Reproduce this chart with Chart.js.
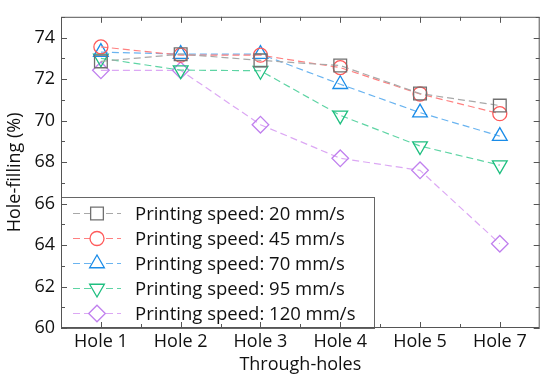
<!DOCTYPE html>
<html>
<head>
<meta charset="utf-8">
<script src="https://cdn.jsdelivr.net/npm/chart.js@4/dist/chart.umd.min.js"></script>
<style>
  html, body { margin: 0; padding: 0; background: #fff; }
  #wrap { width: 550px; height: 381px; }
</style>
</head>
<body>
<div id="wrap"><canvas id="lineChart" width="550" height="381"></canvas></div>
<script>
// data
const holes = ['Hole 1', 'Hole 2', 'Hole 3', 'Hole 4', 'Hole 5', 'Hole 7'];
const speed20 = [72.85, 73.2, 72.9, 72.65, 71.3, 70.72];
const speed45 = [73.55, 73.15, 73.15, 72.55, 71.28, 70.33];
const speed70 = [73.3, 73.2, 73.2, 71.75, 70.38, 69.25];
const speed95 = [73.0, 72.43, 72.4, 70.25, 68.77, 67.85];
const speed120 = [72.42, 72.42, 69.8, 68.18, 67.6, 64.06];
const yTicks = [60, 62, 64, 66, 68, 70, 72, 74];

const FONT = '"Open Sans", Lato, sans-serif';

function series(label, data, line, edge, style, radius, rot) {
  return {
    label: label,
    data: data,
    borderColor: line,
    borderWidth: 1.2,
    borderDash: [7, 4],
    pointStyle: style,
    pointRadius: radius,
    pointHoverRadius: radius,
    pointRotation: rot || 0,
    pointBorderColor: edge,
    pointBackgroundColor: 'rgba(255,255,255,0)',
    pointBorderWidth: 1.3,
    fill: false,
    tension: 0
  };
}

// inward ticks + top/right frame
const frameTicks = {
  id: 'frameTicks',
  afterDraw(chart) {
    const ctx = chart.ctx;
    const a = chart.chartArea;
    const xs = chart.scales.x, ys = chart.scales.y;
    ctx.save();
    ctx.strokeStyle = '#555';
    ctx.lineWidth = 1;
    ctx.strokeRect(a.left + 0.5, a.top + 0.5, a.right - a.left - 1, a.bottom - a.top - 1);
    ctx.beginPath();
    for (let v = 60; v <= 75; v++) {
      const y = Math.round(ys.getPixelForValue(v)) + 0.5;
      const len = v % 2 === 0 ? 6 : 4;
      ctx.moveTo(a.left, y); ctx.lineTo(a.left + len, y);
      ctx.moveTo(a.right, y); ctx.lineTo(a.right - len, y);
    }
    for (let i = 0; i < holes.length; i++) {
      const x = Math.round(xs.getPixelForValue(i)) + 0.5;
      ctx.moveTo(x, a.top); ctx.lineTo(x, a.top + 6);
      ctx.moveTo(x, a.bottom); ctx.lineTo(x, a.bottom - 6);
      if (i > 0) {
        const xm = Math.round((xs.getPixelForValue(i) + xs.getPixelForValue(i - 1)) / 2) + 0.5;
        ctx.moveTo(xm, a.top); ctx.lineTo(xm, a.top + 4);
        ctx.moveTo(xm, a.bottom); ctx.lineTo(xm, a.bottom - 4);
      }
    }
    ctx.stroke();
    ctx.restore();
  }
};

// legend box inside the plot, bottom left
const boxLegend = {
  id: 'boxLegend',
  afterDatasetsDraw(chart) {
    const ctx = chart.ctx;
    const a = chart.chartArea;
    const x0 = a.left, y0 = 197, x1 = 374, y1 = a.bottom;
    ctx.save();
    ctx.fillStyle = '#fff';
    ctx.fillRect(x0, y0, x1 - x0, y1 - y0);
    ctx.strokeStyle = '#666';
    ctx.lineWidth = 1;
    ctx.strokeRect(x0 + 0.5, y0 + 0.5, x1 - x0, y1 - y0);
    chart.data.datasets.forEach((ds, i) => {
      const y = 213.5 + i * 25;
      ctx.strokeStyle = ds.borderColor;
      ctx.lineWidth = ds.borderWidth;
      ctx.setLineDash(ds.borderDash);
      ctx.beginPath();
      ctx.moveTo(73, y); ctx.lineTo(121, y);
      ctx.stroke();
      ctx.setLineDash([]);
      ctx.fillStyle = '#fff';
      ctx.strokeStyle = ds.pointBorderColor;
      ctx.lineWidth = ds.pointBorderWidth;
      Chart.helpers.drawPoint(ctx, {
        pointStyle: ds.pointStyle,
        radius: ds.pointRadius,
        rotation: ds.pointRotation,
        borderWidth: ds.pointBorderWidth
      }, 97, y);
      ctx.fillStyle = '#111';
      ctx.font = '18.5px ' + FONT;
      ctx.textBaseline = 'middle';
      ctx.textAlign = 'left';
      ctx.fillText(ds.label, 135, y + 1);
    });
    ctx.restore();
  }
};

new Chart(document.querySelector('#lineChart'), {
  type: 'line',
  data: {
    labels: holes,
    datasets: [
      series('Printing speed: 20 mm/s', speed20, '#a8a8a8', '#707070', 'rect', 9),
      series('Printing speed: 45 mm/s', speed45, '#ff8080', '#ff5a5a', 'circle', 7),
      series('Printing speed: 70 mm/s', speed70, '#6ab4f0', '#1a8ce8', 'triangle', 8.5),
      series('Printing speed: 95 mm/s', speed95, '#5ed4a4', '#1fbf80', 'triangle', 8.5, 180),
      series('Printing speed: 120 mm/s', speed120, '#dca8f4', '#c080ee', 'rectRot', 8.3)
    ]
  },
  options: {
    responsive: false,
    animation: false,
    devicePixelRatio: 1,
    layout: { padding: { left: 0, right: 5, top: 7, bottom: 0 } },
    plugins: {
      legend: { display: false },
      tooltip: { enabled: false }
    },
    scales: {
      x: {
        type: 'category',
        offset: true,
        grid: { display: false, drawTicks: false },
        border: { display: false },
        ticks: { color: '#111', font: { family: FONT, size: 18 }, padding: 3, maxRotation: 0 },
        title: { display: true, text: 'Through-holes', color: '#111', font: { family: FONT, size: 18 }, padding: { top: 0, bottom: 5 } },
        afterFit(scale) { scale.height = 53; }
      },
      y: {
        min: 60,
        max: 75,
        grid: { display: false, drawTicks: false },
        border: { display: false },
        afterBuildTicks(scale) { scale.ticks = yTicks.map(v => ({ value: v })); },
        ticks: { color: '#111', font: { family: FONT, size: 18 }, padding: 6 },
        title: { display: true, text: 'Hole-filling (%)', color: '#111', font: { family: FONT, size: 18 }, padding: { top: 4, bottom: 0 } },
        afterFit(scale) { scale.width = 61; }
      }
    }
  },
  plugins: [frameTicks, boxLegend]
});
</script>
</body>
</html>
